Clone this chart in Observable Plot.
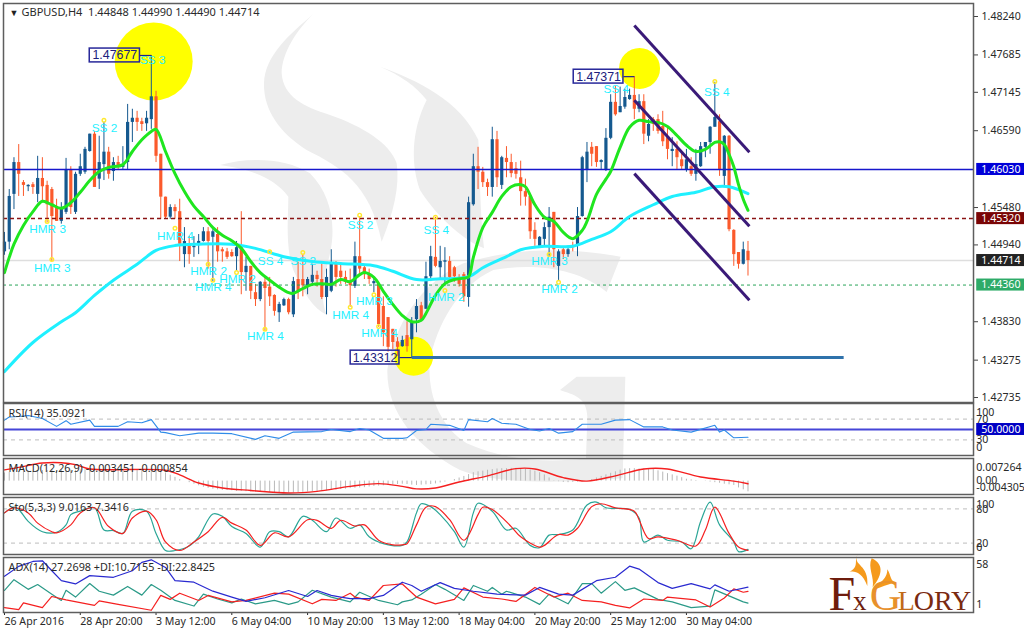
<!DOCTYPE html>
<html><head><meta charset="utf-8">
<script src="https://cdn.jsdelivr.net/npm/d3@7"></script>
<script src="https://cdn.jsdelivr.net/npm/@observablehq/plot@0.6"></script>
<style>
html,body{margin:0;padding:0;background:#fff;width:1024px;height:636px;overflow:hidden}
#chart{position:relative;width:1024px;height:636px;overflow:hidden}
#chart svg{position:absolute;left:0;top:0}
</style></head><body><div id="chart">
<svg width="1024" height="636" viewBox="0 0 1024 636" aria-hidden="true">
<g transform="translate(230,0) scale(.33333)" fill="#ededed">
<path d="M250 42C170 110 105 170 102 250C100 330 150 400 230 450C330 500 420 550 455 725C490 640 510 560 500 490C480 430 400 380 300 345C220 320 160 290 155 220C155 160 200 90 250 42Z"/>
<path d="M450 200C560 240 690 300 745 420C750 520 750 640 762 745C700 720 620 650 570 570C545 500 540 400 590 300C560 260 510 225 450 200Z"/>
<path d="M-30 495C60 470 170 475 240 520C300 580 320 670 300 760C285 830 265 880 290 945C250 925 220 880 190 810C165 740 175 650 175 590C130 530 50 505 -30 495Z"/>
<path d="M1172 770C1000 740 850 745 700 790C570 850 490 980 472 1110C470 1240 560 1340 690 1410C780 1445 930 1455 1178 1435L1186 1130L1040 1130L990 1170C1030 1185 1070 1190 1072 1250L1068 1375C950 1390 820 1380 710 1330C630 1280 590 1180 600 1080C620 980 680 860 790 810C900 790 1040 800 1130 876Z"/>
</g>
<g transform="translate(780,300) scale(.33333)" fill="#f59a1c">
<path d="M232 765C218 798 268 792 262 858C246 815 222 812 208 816C238 800 222 785 232 765Z"/>
<path d="M275 775C318 795 302 832 278 862C284 832 262 802 275 775Z"/>
<path d="M322 808C322 842 292 850 276 872C298 862 330 852 348 846C330 846 334 826 322 808Z"/>
</g>
</svg>
</div>
<script>
const open_ = [1.4484,1.4498,1.4567,1.4613,1.4584,1.4578,1.4581,1.4567,1.4590,1.4580,1.4574,1.4548,1.4528,1.4541,1.4603,1.4541,1.4596,1.4599,1.4629,1.4654,1.4589,1.4610,1.4628,1.4600,1.4613,1.4606,1.4613,1.4671,1.4677,1.4672,1.4669,1.4675,1.4708,1.4625,1.4563,1.4534,1.4548,1.4542,1.4480,1.4495,1.4490,1.4496,1.4499,1.4513,1.4505,1.4509,1.4487,1.4484,1.4483,1.4477,1.4490,1.4454,1.4463,1.4425,1.4415,1.4440,1.4433,1.4421,1.4396,1.4406,1.4415,1.4393,1.4444,1.4444,1.4435,1.4440,1.4450,1.4444,1.4418,1.4427,1.4466,1.4456,1.4447,1.4441,1.4434,1.4477,1.4461,1.4451,1.4438,1.4437,1.4405,1.4389,1.4372,1.4354,1.4347,1.4363,1.4357,1.4386,1.4406,1.4401,1.4448,1.4476,1.4461,1.4469,1.4470,1.4461,1.4447,1.4451,1.4418,1.4552,1.4607,1.4599,1.4584,1.4577,1.4646,1.4580,1.4619,1.4613,1.4604,1.4591,1.4571,1.4564,1.4515,1.4492,1.4502,1.4519,1.4541,1.4463,1.4487,1.4480,1.4492,1.4492,1.4535,1.4603,1.4635,1.4636,1.4613,1.4603,1.4648,1.4700,1.4685,1.4693,1.4704,1.4710,1.4690,1.4701,1.4651,1.4675,1.4675,1.4665,1.4649,1.4629,1.4632,1.4617,1.4603,1.4607,1.4596,1.4607,1.4635,1.4642,1.4664,1.4672,1.4593,1.4651,1.4515,1.4483,1.4466,1.44848];
const high = [1.4512,1.4574,1.4620,1.4639,1.4587,1.4581,1.4584,1.4622,1.4620,1.4586,1.4577,1.4560,1.4555,1.4619,1.4607,1.4599,1.4625,1.4635,1.4654,1.4658,1.4651,1.4671,1.4635,1.4620,1.4622,1.4636,1.4697,1.4690,1.4687,1.4677,1.4687,1.47677,1.4716,1.4625,1.4563,1.4552,1.4552,1.4560,1.4519,1.4506,1.4506,1.4509,1.4519,1.4519,1.4516,1.4519,1.4490,1.4489,1.4487,1.4499,1.4542,1.4476,1.4463,1.4437,1.4441,1.4448,1.4447,1.4422,1.4411,1.4417,1.4417,1.4447,1.4469,1.4480,1.4447,1.4466,1.4456,1.4466,1.4459,1.4487,1.4470,1.4466,1.4456,1.4459,1.4498,1.4535,1.4463,1.4459,1.4447,1.4440,1.4419,1.4389,1.4372,1.4360,1.4362,1.4383,1.4389,1.4415,1.4411,1.4469,1.4492,1.4534,1.4492,1.4490,1.4477,1.4463,1.4451,1.4454,1.4563,1.4625,1.4635,1.4606,1.4589,1.4664,1.4658,1.4622,1.4636,1.4625,1.4613,1.4615,1.4589,1.4564,1.4526,1.4506,1.4526,1.4548,1.4541,1.4487,1.4489,1.4492,1.4498,1.4548,1.4622,1.4642,1.4642,1.4636,1.4617,1.4662,1.4711,1.4723,1.4722,1.4719,1.4719,1.47371,1.4711,1.4711,1.4675,1.4678,1.4682,1.4687,1.4665,1.4649,1.4643,1.4628,1.4632,1.4620,1.4632,1.4642,1.4642,1.4665,1.4729,1.4682,1.4652,1.4652,1.4516,1.4483,1.4498,1.44990];
const low = [1.4479,1.4487,1.4545,1.4564,1.4564,1.4571,1.4567,1.4555,1.4557,1.4526,1.4470,1.4528,1.4524,1.4538,1.4538,1.4538,1.4593,1.4596,1.4628,1.4577,1.4574,1.4587,1.4589,1.4586,1.4603,1.4603,1.4603,1.4642,1.4658,1.4658,1.4658,1.4661,1.4613,1.4531,1.4531,1.4531,1.4531,1.4470,1.4461,1.4466,1.4476,1.4480,1.4498,1.4459,1.4441,1.4469,1.4469,1.4473,1.4476,1.4456,1.4422,1.4427,1.4415,1.4405,1.4412,1.4369,1.4405,1.4391,1.4382,1.4405,1.4393,1.4389,1.4415,1.4419,1.4422,1.4434,1.4433,1.4415,1.4393,1.4425,1.4433,1.4437,1.4437,1.4404,1.4431,1.4451,1.4444,1.4437,1.4425,1.4375,1.4347,1.4339,1.4343,1.4333,1.4346,1.4339,1.43312,1.4367,1.4383,1.4401,1.4441,1.4461,1.4444,1.4434,1.4440,1.4440,1.4433,1.4411,1.4404,1.4550,1.4574,1.4577,1.4564,1.4563,1.4577,1.4574,1.4591,1.4591,1.4589,1.4550,1.4550,1.4502,1.4492,1.4490,1.4492,1.4476,1.4461,1.4441,1.4473,1.4476,1.4484,1.4477,1.4534,1.4584,1.4607,1.4606,1.4603,1.4600,1.4646,1.4680,1.4685,1.4690,1.4703,1.4675,1.4685,1.4639,1.4643,1.4658,1.4654,1.4636,1.4617,1.4607,1.4603,1.4603,1.4599,1.4593,1.4586,1.4606,1.4620,1.4625,1.4664,1.4593,1.4578,1.4513,1.4463,1.4459,1.4465,1.44490];
const close_ = [1.4498,1.4564,1.4613,1.4596,1.4580,1.4580,1.4577,1.4590,1.4578,1.4552,1.4535,1.4528,1.4548,1.4603,1.4548,1.4596,1.4607,1.4632,1.4654,1.4577,1.4613,1.4628,1.4596,1.4613,1.4607,1.4610,1.4671,1.4677,1.4671,1.4668,1.4677,1.4708,1.4622,1.4563,1.4534,1.4548,1.4542,1.4495,1.4499,1.4480,1.4492,1.4499,1.4513,1.4499,1.4513,1.4484,1.4484,1.4476,1.4477,1.4490,1.4454,1.4463,1.4427,1.4415,1.4440,1.4431,1.4419,1.4398,1.4408,1.4415,1.4396,1.4441,1.4427,1.4435,1.4444,1.4450,1.4444,1.4418,1.4447,1.4466,1.4447,1.4447,1.4440,1.4435,1.4477,1.4459,1.4451,1.4444,1.4441,1.4379,1.4367,1.4346,1.4353,1.4346,1.4356,1.4347,1.4383,1.4405,1.4386,1.4448,1.4477,1.4463,1.4470,1.4471,1.4447,1.4448,1.4437,1.4419,1.4555,1.4607,1.4599,1.4584,1.4577,1.4646,1.4591,1.4620,1.4613,1.4597,1.4596,1.4571,1.4563,1.4513,1.4502,1.4505,1.4519,1.4534,1.4487,1.4484,1.4480,1.4487,1.4490,1.4535,1.4620,1.4628,1.4625,1.4613,1.4616,1.4648,1.4700,1.4682,1.4694,1.4707,1.4710,1.4690,1.4701,1.4654,1.4668,1.4668,1.4658,1.4643,1.4632,1.4632,1.4620,1.4607,1.4617,1.4596,1.4610,1.4636,1.4642,1.4664,1.4678,1.4603,1.4651,1.4516,1.4480,1.4466,1.4487,1.44714];

const fastIdx = [0,1,2,4,6,8,10,12,14,16,18,20,22,25,27,29,31,32,34,36,38,40,42,44,46,48,50,52,54,56,58,60,61,63,65,67,69,71,73,75,76,78,80,82,84,86,88,89,91,93,95,97,98,99,101,103,105,107,109,110,112,114,116,118,120,122,123,125,127,128,130,132,134,136,138,140,142,144,146,148,150,151,152,153,154,155,156,157];
const fastMA = [1.4454,1.4476,1.4495,1.4522,1.4542,1.4557,1.4552,1.4547,1.4555,1.4570,1.4587,1.4600,1.4606,1.4610,1.4629,1.4646,1.4658,1.4661,1.4629,1.4597,1.4571,1.4550,1.4535,1.4519,1.4508,1.4500,1.4489,1.4470,1.4454,1.4443,1.4433,1.4425,1.4424,1.4431,1.4437,1.4438,1.4437,1.4444,1.4441,1.4451,1.4454,1.4447,1.4427,1.4408,1.4392,1.4383,1.4385,1.4395,1.4421,1.4438,1.4444,1.4446,1.4448,1.4476,1.4519,1.4541,1.4564,1.4578,1.4581,1.4578,1.4552,1.4534,1.4528,1.4512,1.4503,1.4515,1.4528,1.4567,1.4589,1.4600,1.4635,1.4664,1.4674,1.4672,1.4671,1.4665,1.4652,1.4638,1.4629,1.4632,1.4642,1.4643,1.4639,1.4625,1.4607,1.4581,1.4560,1.4544];
const slowIdx = [0,6,12,15,19,23,28,32,36,41,48,53,59,65,71,78,82,87,92,98,101,106,109,114,120,124,128,132,137,141,146,150,153,157];
const slowMA = [1.4311,1.4353,1.4383,1.4396,1.4421,1.4443,1.4466,1.4486,1.4493,1.4495,1.4495,1.4489,1.4477,1.4470,1.4467,1.4464,1.4456,1.4444,1.4445,1.4448,1.4461,1.4477,1.4487,1.4492,1.4492,1.4502,1.4513,1.4535,1.4552,1.4564,1.4570,1.4578,1.4578,1.4568];

const signalText = ["HMR 3","HMR 3","SS 2","SS 3","HMR 4","HMR 2","HMR 4","HMR 2","SS 4","SS 2","HMR 4","HMR 4","HMR 3","HMR 4","SS 2","SS 4","HMR 2","HMR 3","HMR 2","SS 4","SS 4"];
const signalIdx = [9.1,10.1,21.1,31.3,36.1,43.1,44.1,49.2,56.2,63.1,55.1,73.1,78.1,79.2,75.2,91.2,93.3,115.1,117.2,129.2,150.4];
const signalPrice = [1.4516,1.4461,1.4662,1.4761,1.4506,1.4456,1.4433,1.4444,1.4470,1.4470,1.4362,1.4393,1.4412,1.4367,1.4522,1.4515,1.4418,1.4470,1.4430,1.4719,1.4714];
const markerIdx = [9,10,21,36,43,44,49,56,63,55,73,78,79,75,91,93,115,117,150];
const markerPrice = [1.4528,1.4473,1.4674,1.4518,1.4466,1.4443,1.4454,1.4484,1.4483,1.4372,1.4404,1.4422,1.4376,1.4537,1.4534,1.4428,1.4480,1.4440,1.4730];

const extremeText = ["1.47677","1.47371","1.43312"];
const extremeValue = [1.47677,1.47371,1.43312];
const extremeBar = [31,133,86];
const boxFrom = [18,120.2,73.1];
const boxTo = [28.6,130.7,83.4];
const circleIdx = [31.5,134.1,86.4];
const circlePrice = [1.4759,1.4749,1.4333];
const circleSize = [39,20.5,19.5];
const supportEnd = 177.2;

const channelFrom = [133,133,133];
const channelTo = [157.3,157.3,157.3];
const channelStart = [1.4811,1.4703,1.4597];
const channelEnd = [1.4628,1.4521,1.4414];

const priceTicks = [1.4824,1.47685,1.47145,1.4659,1.4548,1.4494,1.4383,1.43275,1.42735];
const levelPrices = [1.4603,1.4532,1.44714,1.4436];
const levelTags = ["1.46030","1.45320","1.44714","1.44360"];
const levelColors = ["#0000d8","#7a0505","#222222","#2eab68"];

const timeBars = [0,16,32,48,64,80,96,112,128,144];
const timeLabels = ["26 Apr 2016","28 Apr 20:00","3 May 12:00","6 May 04:00","10 May 20:00","13 May 12:00","18 May 04:00","20 May 20:00","25 May 12:00","30 May 04:00"];

const rsiIdx = [0,1,3,5,8,11,13,14,18,19,24,26,29,31,33,34,37,41,44,48,53,55,58,61,67,69,73,75,77,80,84,85,87,89,90,94,97,98,102,103,105,108,111,113,115,117,120,122,126,129,132,135,139,141,145,150,151,152,154,157];
const rsiVal = [68,74,75,77,71,56,67,60,68,56,56,65,63,69,45,44,38,43,43,42,31,38,33,45,46,50,46,52,49,33,33,34,48,50,60,58,48,69,65,71,62,60,50,47,52,43,46,60,60,68,69,55,55,49,45,58,45,49,34,35.09];
const rsiLabels = ["100","70","30","0"];
const rsiLabelAt = [83,70,30,15];

const macdHist = [2.6,2.8,3.0,3.0,3.1,3.2,3.2,3.3,3.4,3.4,3.4,3.3,3.4,3.4,3.5,3.5,3.6,3.6,3.6,3.7,3.7,3.6,3.6,3.6,3.5,3.5,3.6,3.7,3.7,3.7,3.8,3.9,3.8,3.3,2.6,1.9,1.2,0.5,0,-0.5,-1.0,-1.5,-2.0,-2.3,-2.6,-2.8,-3.0,-3.0,-3.1,-3.3,-3.3,-3.4,-3.5,-3.5,-3.6,-3.6,-3.7,-3.8,-3.8,-3.9,-3.9,-3.8,-3.7,-3.6,-3.5,-3.4,-3.3,-3.2,-3.1,-3.0,-2.9,-2.7,-2.6,-2.4,-2.3,-2.2,-2.1,-1.9,-1.7,-1.6,-1.5,-1.4,-1.2,-1.1,-1.0,-1.1,-1.3,-1.4,-1.3,-1.2,-1.1,-0.9,-0.6,-0.3,0,0.5,1.0,1.5,2.1,2.7,3.0,3.2,3.5,3.7,3.9,4.0,4.0,4.1,4.1,4.0,3.8,3.6,3.2,2.7,2.0,1.0,0.1,-0.2,-0.4,-0.5,-0.4,-0.3,-0.2,0.1,0.5,1.0,1.5,2.0,2.5,3.0,3.5,3.9,4.0,4.0,3.9,3.9,3.9,3.7,3.3,2.9,2.4,2.0,1.6,1.1,0.6,0.4,0.2,0,-0.1,-0.3,-0.5,-0.7,-1.0,-1.2,-1.4,-2.2,-2.8,-3.45];
const macdSigIdx = [0,3,8,12,15,18,34,37,41,46,52,60,66,73,79,84,87,91,96,102,108,112,118,123,129,135,140,147,154,157];
const macdSig = [3.6,4.4,5.8,5.9,5.3,3.9,3.5,2.0,-0.6,-2.2,-3.0,-3.8,-3.3,-1.7,-0.8,-1.7,-2.5,-2.2,-0.3,1.7,4.0,3.9,1.1,0,1.7,3.9,3.9,1.3,0,-0.85];
const macdLabels = ["0.007264","0.00","-0.004305"];
const macdLabelAt = [4.3,0.1,-2.2];

const stoMainIdx = [0,2,3,5,8,11,13,14,16,19,21,23,25,27,30,32,34,36,39,41,44,46,48,51,54,56,58,60,63,65,68,70,73,75,77,80,84,85,87,88,90,92,95,97,99,100,103,106,108,111,113,115,117,120,123,125,127,132,134,135,138,140,143,145,147,149,151,154,155,157];
const stoMain = [73,83,79,58,40,39,52,70,76,82,43,42,37,76,76,37,7,7,15,31,71,67,49,37,13,40,40,31,67,60,40,64,46,52,31,19,16,22,73,89,84,70,40,13,73,90,76,43,46,16,12,34,35,43,87,92,82,79,64,22,34,25,22,10,58,92,52,22,5,9.02];
const stoSigIdx = [0,2,5,7,10,11,14,16,19,22,25,27,30,32,34,37,40,43,46,48,51,54,57,60,64,66,69,71,74,76,79,82,84,85,87,89,91,94,97,100,101,103,107,109,113,114,117,119,121,124,126,129,133,134,136,138,142,146,148,150,153,155,157];
const stoSig = [73,82,73,55,40,38,52,73,82,49,37,64,76,61,22,7,22,40,65,55,43,16,38,31,61,60,46,60,50,52,25,17,17,19,52,83,84,61,25,70,83,79,49,31,13,16,35,34,46,84,89,82,76,61,28,31,25,15,43,83,37,13,7.34];
const stoLabels = ["100","80","20","0"];
const stoLabelAt = [87,79,20,12];

const adxIdx = [0,3,6,8,10,12,15,18,23,27,29,31,34,36,40,44,48,51,55,60,64,66,69,71,73,77,80,84,86,88,92,95,99,104,110,113,117,120,125,129,132,134,138,141,145,149,150,153,157];
const adxVal = [38.5,48.8,53.9,54.6,44.3,34.1,30.6,39.2,37.5,44.3,52.9,55.6,47.7,34.1,32.4,23.1,17,12.5,16.3,23.8,17.6,23.8,18.7,17,15.3,15.3,18.7,32.4,29,23,32,26,23,20,19,27,20,19,34,37.5,49,46,32,26,31,25.5,29.6,23,27.27];
const plusIdx = [0,2,5,7,10,12,13,15,18,20,23,26,29,31,33,36,40,42,45,48,50,53,57,60,62,65,69,73,75,79,83,84,86,88,91,93,97,99,102,103,105,106,110,113,115,119,122,124,126,129,131,133,138,141,145,149,150,156,157];
const plusDI = [24,35,25,30,20,13.5,24,17,31,23,19,28,19,30,24,13.5,7.7,20,15,11,15,10,13.5,9.4,12,24,17,12,22,13.5,9,12,14,20,30,25,13.5,29,23,27,20,23,17,9.4,20,10,31,31,21,33,24,26.5,14.6,12,6,7.7,24.5,12,10.72];
const minusIdx = [0,3,4,8,10,13,19,20,24,31,33,35,37,41,43,48,51,57,60,65,67,70,73,74,77,80,84,87,91,95,97,101,105,108,112,116,119,122,126,129,132,135,139,140,146,149,152,154,156,157];
const minusDI = [6,4,11,6,17.6,14,8.4,13,9.4,3.3,18.7,14.6,21,13.5,18.7,12,13.5,21,20,10,14.6,13.5,21,17,13.5,29,30.6,17,10,14.6,26.5,17,15,12.5,27,17,21,13.5,12,8.4,5.7,15,13.5,17,14,6.7,16,25.5,22,22.84];

const F = "'Noto Sans', Tahoma, sans-serif";
const X = {domain:[-0.211,204.62],axis:null};
const W = 1024, H = 636;
const INK = "#2a2a2a";
const panel = (top,bottom,yDomain,marks) => {
  const svg = Plot.plot({
    width:W,height:H,marginLeft:3,marginRight:W-973,marginTop:top,marginBottom:H-bottom,
    x:X,y:{domain:yDomain,axis:null},
    style:{fontFamily:F,fontSize:"10.6px",background:"transparent",color:INK,overflow:"visible"},
    marks:[...marks,Plot.frame({stroke:"#5e5e5e",strokeWidth:1.5})]
  });
  document.getElementById("chart").appendChild(svg);
};
const pts = (a,b)=>a.map((x,k)=>({x,y:b[k]}));
const title = (t)=>Plot.text([t],{frameAnchor:"top-left",dx:5,dy:6,textAnchor:"start",fill:INK,fontSize:10.8});
const sideLabels = (ls,at)=>Plot.text(ls,{x:()=>205.2,y:(_,k)=>at[k],textAnchor:"start",fill:INK,fontSize:10.6});

const bars = open_.map((o,i)=>({i,o,h:high[i],l:low[i],c:close_[i]}));
const up = bars.filter(d=>d.c>=d.o), down = bars.filter(d=>d.c<d.o);
const UP="#15598f", DN="#fb5a2c";
const signals = signalText.map((t,k)=>({t,x:signalIdx[k],y:signalPrice[k]}));
const circles = circleIdx.map((x,k)=>({x,y:circlePrice[k],r:circleSize[k]}));
const boxes = extremeText.map((t,k)=>({t,v:extremeValue[k],b:extremeBar[k],a:boxFrom[k],z:boxTo[k]}));
const channels = channelFrom.map((x1,k)=>({x1,x2:channelTo[k],y1:channelStart[k],y2:channelEnd[k]}));
const tags = levelPrices.map((p,k)=>({p,t:levelTags[k],c:levelColors[k]}));

panel(3,402,[1.42663,1.48428],[
  Plot.dot(circles.slice(0,1),{x:"x",y:"y",r:circleSize[0],fill:"#ffff00"}),
  Plot.dot(circles.slice(1,2),{x:"x",y:"y",r:circleSize[1],fill:"#ffff00"}),
  Plot.dot(circles.slice(2,3),{x:"x",y:"y",r:circleSize[2],fill:"#ffff00"}),
  Plot.ruleY([levelPrices[2]],{stroke:"#dedede",strokeWidth:1.5}),
  Plot.ruleX(up,{x:"i",y1:"l",y2:"h",stroke:UP,strokeWidth:1}),
  Plot.ruleX(down,{x:"i",y1:"l",y2:"h",stroke:DN,strokeWidth:1}),
  Plot.ruleX(up,{x:"i",y1:"o",y2:"c",stroke:UP,strokeWidth:3.2}),
  Plot.ruleX(down,{x:"i",y1:"o",y2:"c",stroke:DN,strokeWidth:3.2}),
  Plot.ruleY([levelPrices[0]],{stroke:"#1717cc",strokeWidth:1.5}),
  Plot.ruleY([levelPrices[1]],{stroke:"#8a1414",strokeWidth:1.5,strokeDasharray:"4,3"}),
  Plot.ruleY([levelPrices[3]],{stroke:"#2aa45a",strokeWidth:1,strokeDasharray:"3,3"}),
  Plot.line(pts(slowIdx,slowMA),{x:"x",y:"y",stroke:"#1ff0ff",strokeWidth:3,curve:"catmull-rom"}),
  Plot.line(pts(fastIdx,fastMA),{x:"x",y:"y",stroke:"#1fe61f",strokeWidth:3,curve:"catmull-rom"}),
  Plot.link([{a:extremeBar[2],b:supportEnd,v:extremeValue[2]}],{x1:"a",x2:"b",y1:"v",y2:"v",stroke:"#2f72ab",strokeWidth:3}),
  Plot.link(channels,{x1:"x1",x2:"x2",y1:"y1",y2:"y2",stroke:"#3a1a78",strokeWidth:3}),
  Plot.link(boxes,{x1:"z",x2:"b",y1:"v",y2:"v",stroke:"#20208c",strokeWidth:1.2}),
  Plot.rect(boxes,{x1:"a",x2:"z",y1:d=>d.v+0.001,y2:d=>d.v-0.001,fill:"none",stroke:"#28289a",strokeWidth:1.5}),
  Plot.text(boxes,{x:d=>(d.a+d.z)/2,y:"v",text:"t",fill:"#20207c",fontSize:12.4,fontFamily:"'Liberation Sans',sans-serif"}),
  Plot.text(signals,{x:"x",y:"y",text:"t",fill:"#1ff0ff",fontSize:11.8,fontFamily:"'Liberation Sans',sans-serif"}),
  Plot.dot(pts(markerIdx,markerPrice),{x:"x",y:"y",r:1.8,fill:"none",stroke:"#ffe92e",strokeWidth:1.4}),
  Plot.axisY({anchor:"right",ticks:priceTicks,tickFormat:d=>d.toFixed(5),tickSize:4,tickPadding:4,label:null,fontSize:10.6,stroke:"#444"}),
  Plot.rect(tags,{x1:()=>205.3,x2:()=>215.6,y1:d=>d.p+0.00087,y2:d=>d.p-0.00087,fill:"c"}),
  Plot.text(tags,{x:()=>210.4,y:"p",text:"t",fill:"#fff",fontSize:10.6}),
  Plot.text(["▼"],{frameAnchor:"top-left",dx:6,dy:6,textAnchor:"start",fill:"#222",fontSize:9}),
  Plot.text(["GBPUSD,H4  1.44848 1.44990 1.44490 1.44714"],{frameAnchor:"top-left",dx:18,dy:5,textAnchor:"start",fill:INK,fontSize:11,style:"white-space:pre"})
]);

panel(403,455,[0,100],[
  Plot.ruleY([70,30],{stroke:"#bdbdbd",strokeDasharray:"4,4"}),
  Plot.ruleY([50],{stroke:"#4545d8",strokeWidth:2}),
  Plot.line(pts(rsiIdx,rsiVal),{x:"x",y:"y",stroke:"#2f8ce8",strokeWidth:1.1}),
  title("RSI(14) 35.0921"),
  Plot.rect([50],{x1:()=>205.3,x2:()=>215.6,y1:d=>d-11.5,y2:d=>d+11.5,fill:"#0000c4"}),
  Plot.text(["50.0000"],{x:()=>210.4,y:()=>50,fill:"#fff",fontSize:10.6}),
  sideLabels(rsiLabels,rsiLabelAt)
]);

panel(458,494,[-4.305,7.264],[
  Plot.ruleX(macdHist.map((v,i)=>({i,v})),{x:"i",y1:()=>0,y2:"v",stroke:"#b8b8b8",strokeWidth:1}),
  Plot.line(pts(macdSigIdx,macdSig),{x:"x",y:"y",stroke:"#f52020",strokeWidth:1.4,curve:"catmull-rom"}),
  title("MACD(12,26,9) -0.003451 -0.000854"),
  sideLabels(macdLabels,macdLabelAt)
]);

panel(497,554,[0,100],[
  Plot.ruleY([80,20],{stroke:"#bdbdbd",strokeDasharray:"4,4"}),
  Plot.line(pts(stoMainIdx,stoMain),{x:"x",y:"y",stroke:"#2aa596",strokeWidth:1.2,curve:"catmull-rom"}),
  Plot.line(pts(stoSigIdx,stoSig),{x:"x",y:"y",stroke:"#f52020",strokeWidth:1.2,curve:"catmull-rom"}),
  title("Sto(5,3,3) 9.0163 7.3416"),
  sideLabels(stoLabels,stoLabelAt)
]);

panel(557,612,[1,58],[
  Plot.line(pts(plusIdx,plusDI),{x:"x",y:"y",stroke:"#2b9a88",strokeWidth:1.2}),
  Plot.line(pts(minusIdx,minusDI),{x:"x",y:"y",stroke:"#f52020",strokeWidth:1.2}),
  Plot.line(pts(adxIdx,adxVal),{x:"x",y:"y",stroke:"#2a2ad0",strokeWidth:1.2}),
  title("ADX(14) 27.2698 +DI:10.7155 -DI:22.8425"),
  sideLabels(["58","1"],[51,9]),
  Plot.text(["F"],{x:()=>174,y:()=>4,textAnchor:"start",lineAnchor:"bottom",fill:"#6e1c0c",fontSize:48,fontFamily:"'Liberation Serif',serif"}),
  Plot.text(["x"],{x:()=>179.2,y:()=>4,textAnchor:"start",lineAnchor:"bottom",fill:"#6e1c0c",fontSize:27,fontFamily:"'Liberation Serif',serif"}),
  Plot.text(["G"],{x:()=>182.7,y:()=>4,textAnchor:"start",lineAnchor:"bottom",fill:"#e8912c",fontSize:44,fontFamily:"'Liberation Serif',serif"}),
  Plot.text(["L"],{x:()=>188.6,y:()=>4,textAnchor:"start",lineAnchor:"bottom",fill:"#c06a18",fontSize:28,fontFamily:"'Liberation Serif',serif"}),
  Plot.text(["ORY"],{x:()=>192,y:()=>4,textAnchor:"start",lineAnchor:"bottom",fill:"#7a2a10",fontSize:28,fontFamily:"'Liberation Serif',serif"}),
  Plot.axisX({anchor:"bottom",ticks:timeBars,tickFormat:d=>timeLabels[timeBars.indexOf(d)],tickSize:3,tickPadding:2,textAnchor:"start",label:null,fontSize:10.6})
]);
</script></body></html>
